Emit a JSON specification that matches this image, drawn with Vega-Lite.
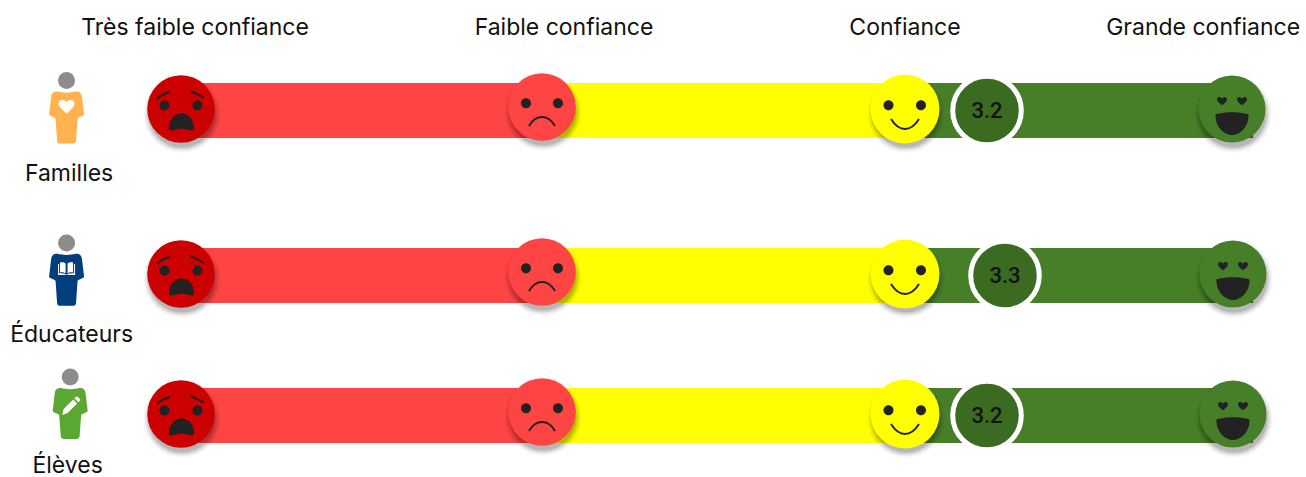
{
"$schema":"https://vega.github.io/schema/vega-lite/v6.json",
"width":1306,"height":477,"padding":0,"autosize":"none",
"background":"white",
"view":{"stroke":null},
"datasets":{
"bars":[
{"row":1,"score":1,"fin":2,"niveau":"Très faible"},{"row":1,"score":2,"fin":3,"niveau":"Faible"},{"row":1,"score":3,"fin":4.065,"niveau":"Grande"},
{"row":2,"score":1,"fin":2,"niveau":"Très faible"},{"row":2,"score":2,"fin":3,"niveau":"Faible"},{"row":2,"score":3,"fin":4.065,"niveau":"Grande"},
{"row":3,"score":1,"fin":2,"niveau":"Très faible"},{"row":3,"score":2,"fin":3,"niveau":"Faible"},{"row":3,"score":3,"fin":4.065,"niveau":"Grande"}],
"faces":[
{"row":1,"score":1,"face":"a"},{"row":1,"score":2,"face":"b"},{"row":1,"score":3,"face":"c"},{"row":1,"score":4,"face":"d"},
{"row":2,"score":1,"face":"a"},{"row":2,"score":2,"face":"b"},{"row":2,"score":3,"face":"c"},{"row":2,"score":4.003,"face":"d"},
{"row":3,"score":1,"face":"a"},{"row":3,"score":2,"face":"b"},{"row":3,"score":3,"face":"c"},{"row":3,"score":4.003,"face":"d"}],
"values":[{"row":1,"score":3.2},{"row":2,"score":3.3},{"row":3,"score":3.2}],
"headers":[
{"row":0.497,"score":1.039,"texte":"Très faible confiance"},
{"row":0.497,"score":2.0606,"texte":"Faible confiance"},
{"row":0.497,"score":3,"texte":"Confiance"},
{"row":0.497,"score":3.911,"texte":"Grande confiance"}],
"labels":[
{"row":1.385,"score":0.69,"texte":"Familles"},
{"row":2.425,"score":0.697,"texte":"Éducateurs"},
{"row":3.362,"score":0.686,"texte":"Élèves"}],
"p1":[{"row":1,"score":0.683}],
"p2":[{"row":2,"score":0.683}],
"p3":[{"row":3,"score":0.693}]
},
"encoding":{
"x":{"field":"score","type":"quantitative","axis":null,"scale":{"domain":[1,2,3,3.2,3.3,4],"range":[181,542,905,987,1005,1232],"nice":false,"zero":false}},
"y":{"field":"row","type":"quantitative","axis":null,"scale":{"domain":[1,2,3],"range":[110.5,275.5,415.5],"nice":false,"zero":false}}
},
"layer":[
{"data":{"name":"bars"},"mark":{"type":"rule","strokeWidth":55,"strokeCap":"butt"},"encoding":{"x2":{"field":"fin"},"color":{"field":"niveau","type":"nominal","legend":null,"scale":{"domain":["Très faible","Faible","Grande"],"range":["#FF4444","#FFFF00","#477E28"]}}}},

{"data":{"name":"faces"},"transform":[{"filter":"datum.face!='b'"}],"mark":{"type":"circle","size":6000,"color":"#000","opacity":0.03,"xOffset":1,"yOffset":3.5}},
{"data":{"name":"faces"},"transform":[{"filter":"datum.face!='b'"}],"mark":{"type":"circle","size":5500,"color":"#000","opacity":0.06,"xOffset":1,"yOffset":3.5}},
{"data":{"name":"faces"},"transform":[{"filter":"datum.face!='b'"}],"mark":{"type":"circle","size":5000,"color":"#000","opacity":0.09,"xOffset":1,"yOffset":3.5}},
{"data":{"name":"faces"},"transform":[{"filter":"datum.face!='b'"}],"mark":{"type":"circle","size":4500,"color":"#000","opacity":0.13,"xOffset":1,"yOffset":3.5}},
{"data":{"name":"faces"},"transform":[{"filter":"datum.face=='b'"}],"mark":{"type":"circle","size":6000,"color":"#000","opacity":0.03,"xOffset":1,"yOffset":1.5}},
{"data":{"name":"faces"},"transform":[{"filter":"datum.face=='b'"}],"mark":{"type":"circle","size":5500,"color":"#000","opacity":0.06,"xOffset":1,"yOffset":1.5}},
{"data":{"name":"faces"},"transform":[{"filter":"datum.face=='b'"}],"mark":{"type":"circle","size":5000,"color":"#000","opacity":0.09,"xOffset":1,"yOffset":1.5}},
{"data":{"name":"faces"},"transform":[{"filter":"datum.face=='b'"}],"mark":{"type":"circle","size":4500,"color":"#000","opacity":0.13,"xOffset":1,"yOffset":1.5}},

{"data":{"name":"faces"},"transform":[{"filter":"datum.face=='a'"}],"mark":{"type":"circle","size":4560,"color":"#CC0000","opacity":1,"yOffset":-1.5}},
{"data":{"name":"faces"},"transform":[{"filter":"datum.face=='b'"}],"mark":{"type":"circle","size":4560,"color":"#FF4444","opacity":1,"yOffset":-3.5}},
{"data":{"name":"faces"},"transform":[{"filter":"datum.face=='c'"}],"mark":{"type":"circle","size":4761,"color":"#FFFF00","opacity":1,"yOffset":-1.5}},
{"data":{"name":"faces"},"transform":[{"filter":"datum.face=='d'"}],"mark":{"type":"circle","size":4489,"color":"#477E28","opacity":1,"yOffset":-1.5}},

{"data":{"name":"faces"},"transform":[{"filter":"datum.face=='a'"}],"mark":{"type":"point","size":4,"filled":true,"color":"#222222","opacity":1,"strokeWidth":0,"yOffset":-1.5,
"shape":"M-21.5,-3.5a5,5 0 1,0 10,0a5,5 0 1,0 -10,0Z M11.5,-3.5a5,5 0 1,0 10,0a5,5 0 1,0 -10,0Z M-12,19 C-12,10 -6,4.5 0.5,4.5 C7,4.5 13,10 13,19 C13,22 10,22 8,21 C3,19 -2,19 -7,21 C-10,22 -12,22 -12,19Z"}},
{"data":{"name":"faces"},"transform":[{"filter":"datum.face=='a'"}],"mark":{"type":"point","size":4,"filled":false,"color":"#222222","opacity":1,"strokeWidth":2,"yOffset":-1.5,
"shape":"M-24,-10 C-20,-14 -15,-16 -11,-17 M9.5,-18 C14,-16 19,-14 23,-11"}},
{"data":{"name":"faces"},"transform":[{"filter":"datum.face=='b'"}],"mark":{"type":"point","size":4,"filled":true,"color":"#222222","opacity":1,"strokeWidth":0,"yOffset":-3.5,
"shape":"M-21,-3.7a5,5 0 1,0 10,0a5,5 0 1,0 -10,0Z M11,-3.7a5,5 0 1,0 10,0a5,5 0 1,0 -10,0Z"}},
{"data":{"name":"faces"},"transform":[{"filter":"datum.face=='b'"}],"mark":{"type":"point","size":4,"filled":false,"color":"#222222","opacity":1,"strokeWidth":2,"yOffset":-3.5,
"shape":"M-13,19 C-9,12 -4,10 0,10 C4,10 9,12 13,19"}},
{"data":{"name":"faces"},"transform":[{"filter":"datum.face=='c'"}],"mark":{"type":"point","size":4,"filled":true,"color":"#222222","opacity":1,"strokeWidth":0,"yOffset":-1.5,
"shape":"M-21.5,-3.8a5,5 0 1,0 10,0a5,5 0 1,0 -10,0Z M11,-3.8a5,5 0 1,0 10,0a5,5 0 1,0 -10,0Z"}},
{"data":{"name":"faces"},"transform":[{"filter":"datum.face=='c'"}],"mark":{"type":"point","size":4,"filled":false,"color":"#222222","opacity":1,"strokeWidth":2,"yOffset":-1.5,
"shape":"M-14,10 C-9,18 -4,20 0,20 C4,20 9,18 14,10"}},
{"data":{"name":"faces"},"transform":[{"filter":"datum.face=='d'"}],"mark":{"type":"point","size":4,"filled":true,"color":"#222222","opacity":1,"strokeWidth":0,"yOffset":-1.5,
"shape":"M-10,-3.7 C-13,-5.7 -15,-7.7 -15,-9.7 C-15,-11.7 -13,-12.2 -12,-11.7 C-11,-11.4 -10,-10.7 -10,-10.2 C-10,-10.7 -9,-11.4 -8,-11.7 C-7,-12.2 -5,-11.7 -5,-9.7 C-5,-7.7 -7,-5.7 -10,-3.7Z M10,-3.7 C7,-5.7 5,-7.7 5,-9.7 C5,-11.7 7,-12.2 8,-11.7 C9,-11.4 10,-10.7 10,-10.2 C10,-10.7 11,-11.4 12,-11.7 C13,-12.2 15,-11.7 15,-9.7 C15,-7.7 13,-5.7 10,-3.7Z M-15,5 C-6,2.5 6,2.5 15,5 C17,5 16.5,7 16.5,8 C16,18 8,26 0,26 C-8,26 -16,18 -16.5,8 C-16.5,7 -17,5 -15,5Z"}},

{"data":{"name":"values"},"mark":{"type":"circle","size":4700,"fill":"#3A6B20","stroke":"white","strokeWidth":5,"opacity":1}},
{"data":{"name":"values"},"mark":{"type":"text","font":"Roboto","fontWeight":500,"fontSize":22,"color":"#111111","align":"center","baseline":"middle","dy":0},"encoding":{"text":{"field":"score","type":"quantitative","format":".1f"}}},

{"data":{"name":"p1"},"mark":{"type":"circle","size":289,"color":"#8C8C8C","opacity":1,"yOffset":-30}},
{"data":{"name":"p1"},"mark":{"type":"point","size":4,"filled":true,"color":"#FFB24D","opacity":1,"strokeWidth":0,
"shape":"M-9,-19 C-4,-17.5 4,-17.5 9,-19 C13,-19 15,-18 15.5,-13 L17.5,4 C17.5,5 12,7 11,8 L9.5,30 C9.5,32.5 8,33 6,33 L-6,33 C-8,33 -9.5,32.5 -9.5,30 L-11,8 C-12,7 -17.5,5 -17.5,4 L-15.5,-13 C-15,-18 -13,-19 -9,-19Z"}},
{"data":{"name":"p1"},"mark":{"type":"point","size":4,"filled":true,"color":"#FFFFFF","opacity":1,"strokeWidth":0,"yOffset":-4,
"shape":"M0,7 C-4,4 -8,0 -8,-3 C-8,-6 -5,-7 -3,-6.5 C-1.5,-6 0,-5 0,-4 C0,-5 1.5,-6 3,-6.5 C5,-7 8,-6 8,-3 C8,0 4,4 0,7Z"}},

{"data":{"name":"p2"},"mark":{"type":"circle","size":289,"color":"#8C8C8C","opacity":1,"yOffset":-32.5}},
{"data":{"name":"p2"},"mark":{"type":"point","size":4,"filled":true,"color":"#003E7E","opacity":1,"strokeWidth":0,"yOffset":-2.7,
"shape":"M-9,-19 C-4,-17.5 4,-17.5 9,-19 C13,-19 15,-18 15.5,-13 L17.5,4 C17.5,5 12,7 11,8 L9.5,30 C9.5,32.5 8,33 6,33 L-6,33 C-8,33 -9.5,32.5 -9.5,30 L-11,8 C-12,7 -17.5,5 -17.5,4 L-15.5,-13 C-15,-18 -13,-19 -9,-19Z"}},
{"data":{"name":"p2"},"mark":{"type":"point","size":4,"filled":true,"color":"#FFFFFF","opacity":1,"strokeWidth":0,"yOffset":-7,
"shape":"M-1,-5 C-2.5,-6.5 -5,-6.5 -6.5,-6 L-6.5,4 C-5,3.5 -2.5,3.5 -1,5Z M1,-5 C2.5,-6.5 5,-6.5 6.5,-6 L6.5,4 C5,3.5 2.5,3.5 1,5Z M-8.5,-4.5 L-7.5,-4.5 L-7.5,5 C-5,4.5 -2.5,5 0,6.2 C2.5,5 5,4.5 7.5,5 L7.5,-4.5 L8.5,-4.5 L8.5,6.5 L-8.5,6.5Z"}},

{"data":{"name":"p3"},"mark":{"type":"circle","size":289,"color":"#8C8C8C","opacity":1,"yOffset":-38.5}},
{"data":{"name":"p3"},"mark":{"type":"point","size":4,"filled":true,"color":"#5AA832","opacity":1,"strokeWidth":0,"yOffset":-8.5,
"shape":"M-9,-19 C-4,-17.5 4,-17.5 9,-19 C13,-19 15,-18 15.5,-13 L17.5,4 C17.5,5 12,7 11,8 L9.5,28 C9.5,31 8,32 6,32 L-6,32 C-8,32 -9.5,31 -9.5,28 L-11,8 C-12,7 -17.5,5 -17.5,4 L-15.5,-13 C-15,-18 -13,-19 -9,-19Z"}},
{"data":{"name":"p3"},"mark":{"type":"point","size":4,"filled":true,"color":"#FFFFFF","opacity":1,"strokeWidth":0,"yOffset":-9,
"shape":"M-8,8.5 L-6.5,2.5 L3,-7 L7,-3 L-2.5,6.5Z M4.2,-8.2 L5.5,-9.5 C6.2,-10.2 7,-10.2 7.7,-9.5 L9.5,-7.7 C10.2,-7 10.2,-6.2 9.5,-5.5 L8.2,-4.2Z"}},

{"data":{"name":"headers"},"mark":{"type":"text","font":"Inter","fontSize":23,"color":"#111111","align":"center","baseline":"middle"},"encoding":{"text":{"field":"texte"}}},
{"data":{"name":"labels"},"mark":{"type":"text","font":"Inter","fontSize":23,"color":"#111111","align":"center","baseline":"middle"},"encoding":{"text":{"field":"texte"}}}
]
}
